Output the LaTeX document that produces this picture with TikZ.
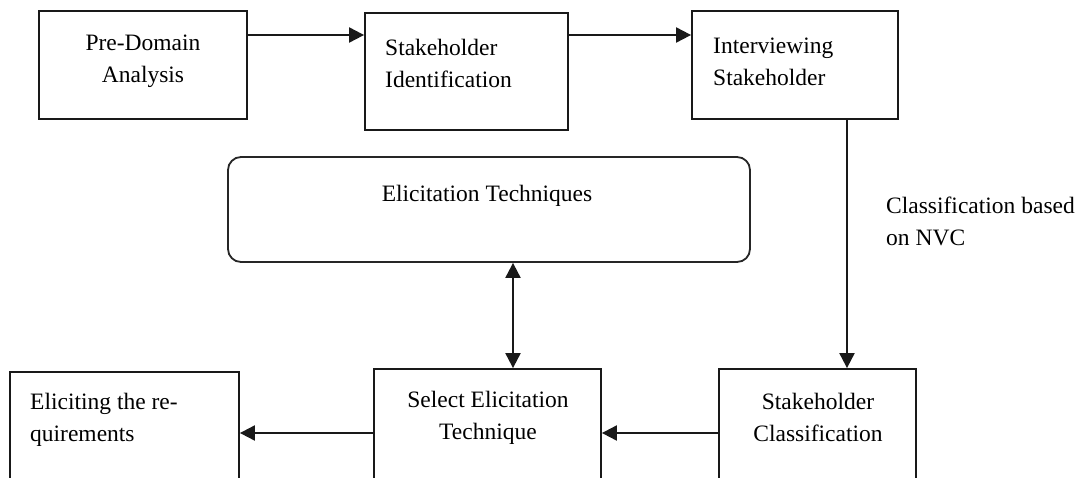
\documentclass[tikz,border=0pt]{standalone}
\usepackage{fontspec}
\setmainfont{Liberation Serif}
\usetikzlibrary{arrows.meta}
\begin{document}
\begin{tikzpicture}[x=1pt,y=-1pt,
  box/.style={draw=black!90,line width=1.8pt,rectangle,inner sep=0pt},
  rbox/.style={draw=black!85,line width=1.8pt,rectangle,rounded corners=13pt,inner sep=0pt},
  txt/.style={inner sep=0pt,font=\fontsize{23.5}{32}\selectfont},
  arr/.style={line width=2pt,draw=black!90,-{Triangle[length=15pt,width=15pt]}},
  darr/.style={line width=2pt,draw=black!90,{Triangle[length=15pt,width=15pt]}-{Triangle[length=15pt,width=15pt]}},
  ln/.style={line width=1.6pt,draw=black!90}]
\useasboundingbox (0,0) rectangle (1079,477);
\clip (0,0) rectangle (1079,477);
% boxes
\node[box,minimum width=208pt,minimum height=108pt] (b1) at (143,65) {};
\node[box,minimum width=203pt,minimum height=117pt] (b2) at (466.5,71.5) {};
\node[box,minimum width=206pt,minimum height=108pt] (b3) at (795,65) {};
\node[rbox,minimum width=522pt,minimum height=105pt] (et) at (489,209.5) {};
\node[box,minimum width=229pt,minimum height=140pt] (b4) at (124.5,442) {};
\node[box,minimum width=227pt,minimum height=140pt] (b5) at (487.5,439) {};
\node[box,minimum width=197pt,minimum height=140pt] (b6) at (817.5,439) {};
% texts
\node[txt,align=center] (t1) at (143,61) {Pre-Domain\\Analysis};
\node[txt,align=left,anchor=west] (t2) at (385,63) {Stakeholder\\Identification};
\node[txt,align=left,anchor=west] (t3) at (713,62) {Interviewing\\Stakeholder};
\node[txt] (t4) at (487,196) {Elicitation Techniques};
\node[txt,align=left,anchor=west] (t5) at (30,420) {Eliciting the re-\\quirements};
\node[txt,align=center] (t6) at (488,418) {Select Elicitation\\Technique};
\node[txt,align=center] (t7) at (818,417) {Stakeholder\\Classification};
\node[txt,align=left,anchor=west] (t8) at (886,221) {Classification based\\on NVC};
% connectors
\draw[arr] (b1.east |- 0,35) -- (b2.west |- 0,35);
\draw[arr] (b2.east |- 0,35) -- (b3.west |- 0,35);
\draw[arr] (b3.south -| 847,0) -- (b6.north -| 847,0);
\draw[darr] (et.south -| 513,0) -- (b5.north -| 513,0);
\draw[arr] (b6.west |- 0,433) -- (b5.east |- 0,433);
\draw[arr] (b5.west |- 0,433) -- (b4.east |- 0,433);
\end{tikzpicture}
\end{document}
